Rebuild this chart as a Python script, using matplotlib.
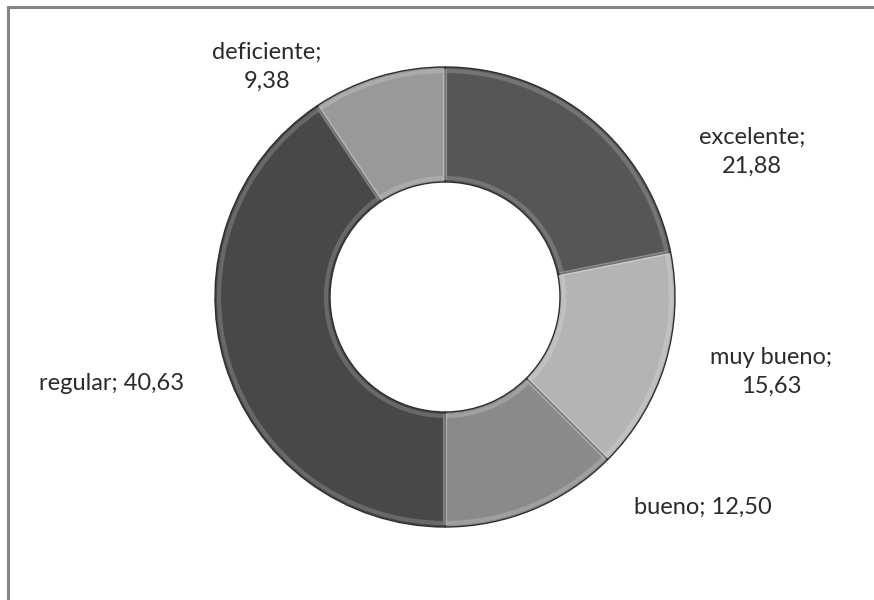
import matplotlib.pyplot as plt
from matplotlib.patches import Rectangle

# encuesta: valoración (%)
categorias = ['excelente', 'muy bueno', 'bueno', 'regular', 'deficiente']
valores = [21.88, 15.63, 12.50, 40.63, 9.38]
colores = ['#565656', '#b4b4b4', '#8a8a8a', '#484848', '#999999']

# posiciones de las etiquetas (px, origen abajo-izquierda) y si van en dos líneas
pos_etiquetas = [(752, 448), (771, 228), (703, 93), (112, 216), (267, 533)]
dos_lineas = [True, True, False, False, True]

plt.rcParams['font.family'] = ['Lato', 'DejaVu Sans']

fig = plt.figure(figsize=(8.74, 6), dpi=100)
ax = fig.add_axes([0, 0, 1, 1])

centro = (445, 303)
radio = 230
ax.pie(valores, colors=colores, startangle=90, counterclock=False,
       center=centro, radius=radio, frame=True,
       wedgeprops=dict(width=radio * 0.5, edgecolor='#2e2e2e', linewidth=1.0))

# bisel suave: borde claro interior
ax.pie(valores, colors=['none'] * len(valores), startangle=90, counterclock=False,
       center=centro, radius=radio - 4, frame=True,
       wedgeprops=dict(width=radio * 0.5 - 8, edgecolor=(1, 1, 1, 0.18),
                       linewidth=3, fill=False))
ax.set_xlim(0, 874)
ax.set_ylim(0, 600)
ax.set_aspect('equal')
ax.axis('off')

for cat, val, (x, y), dl in zip(categorias, valores, pos_etiquetas, dos_lineas):
    num = f'{val:.2f}'.replace('.', ',')
    txt = f'{cat};\n{num}' if dl else f'{cat}; {num}'
    ax.text(x, y, txt, ha='center', va='center', fontsize=17,
            color='#2b2b2b', linespacing=1.45)

# marco del área del gráfico
ax.add_patch(Rectangle((8, -50), 1000, 600 - 7 + 50, fill=False,
                       edgecolor='#858585', linewidth=2.2, clip_on=False))

fig.savefig('out.png', dpi=100, facecolor='white')
